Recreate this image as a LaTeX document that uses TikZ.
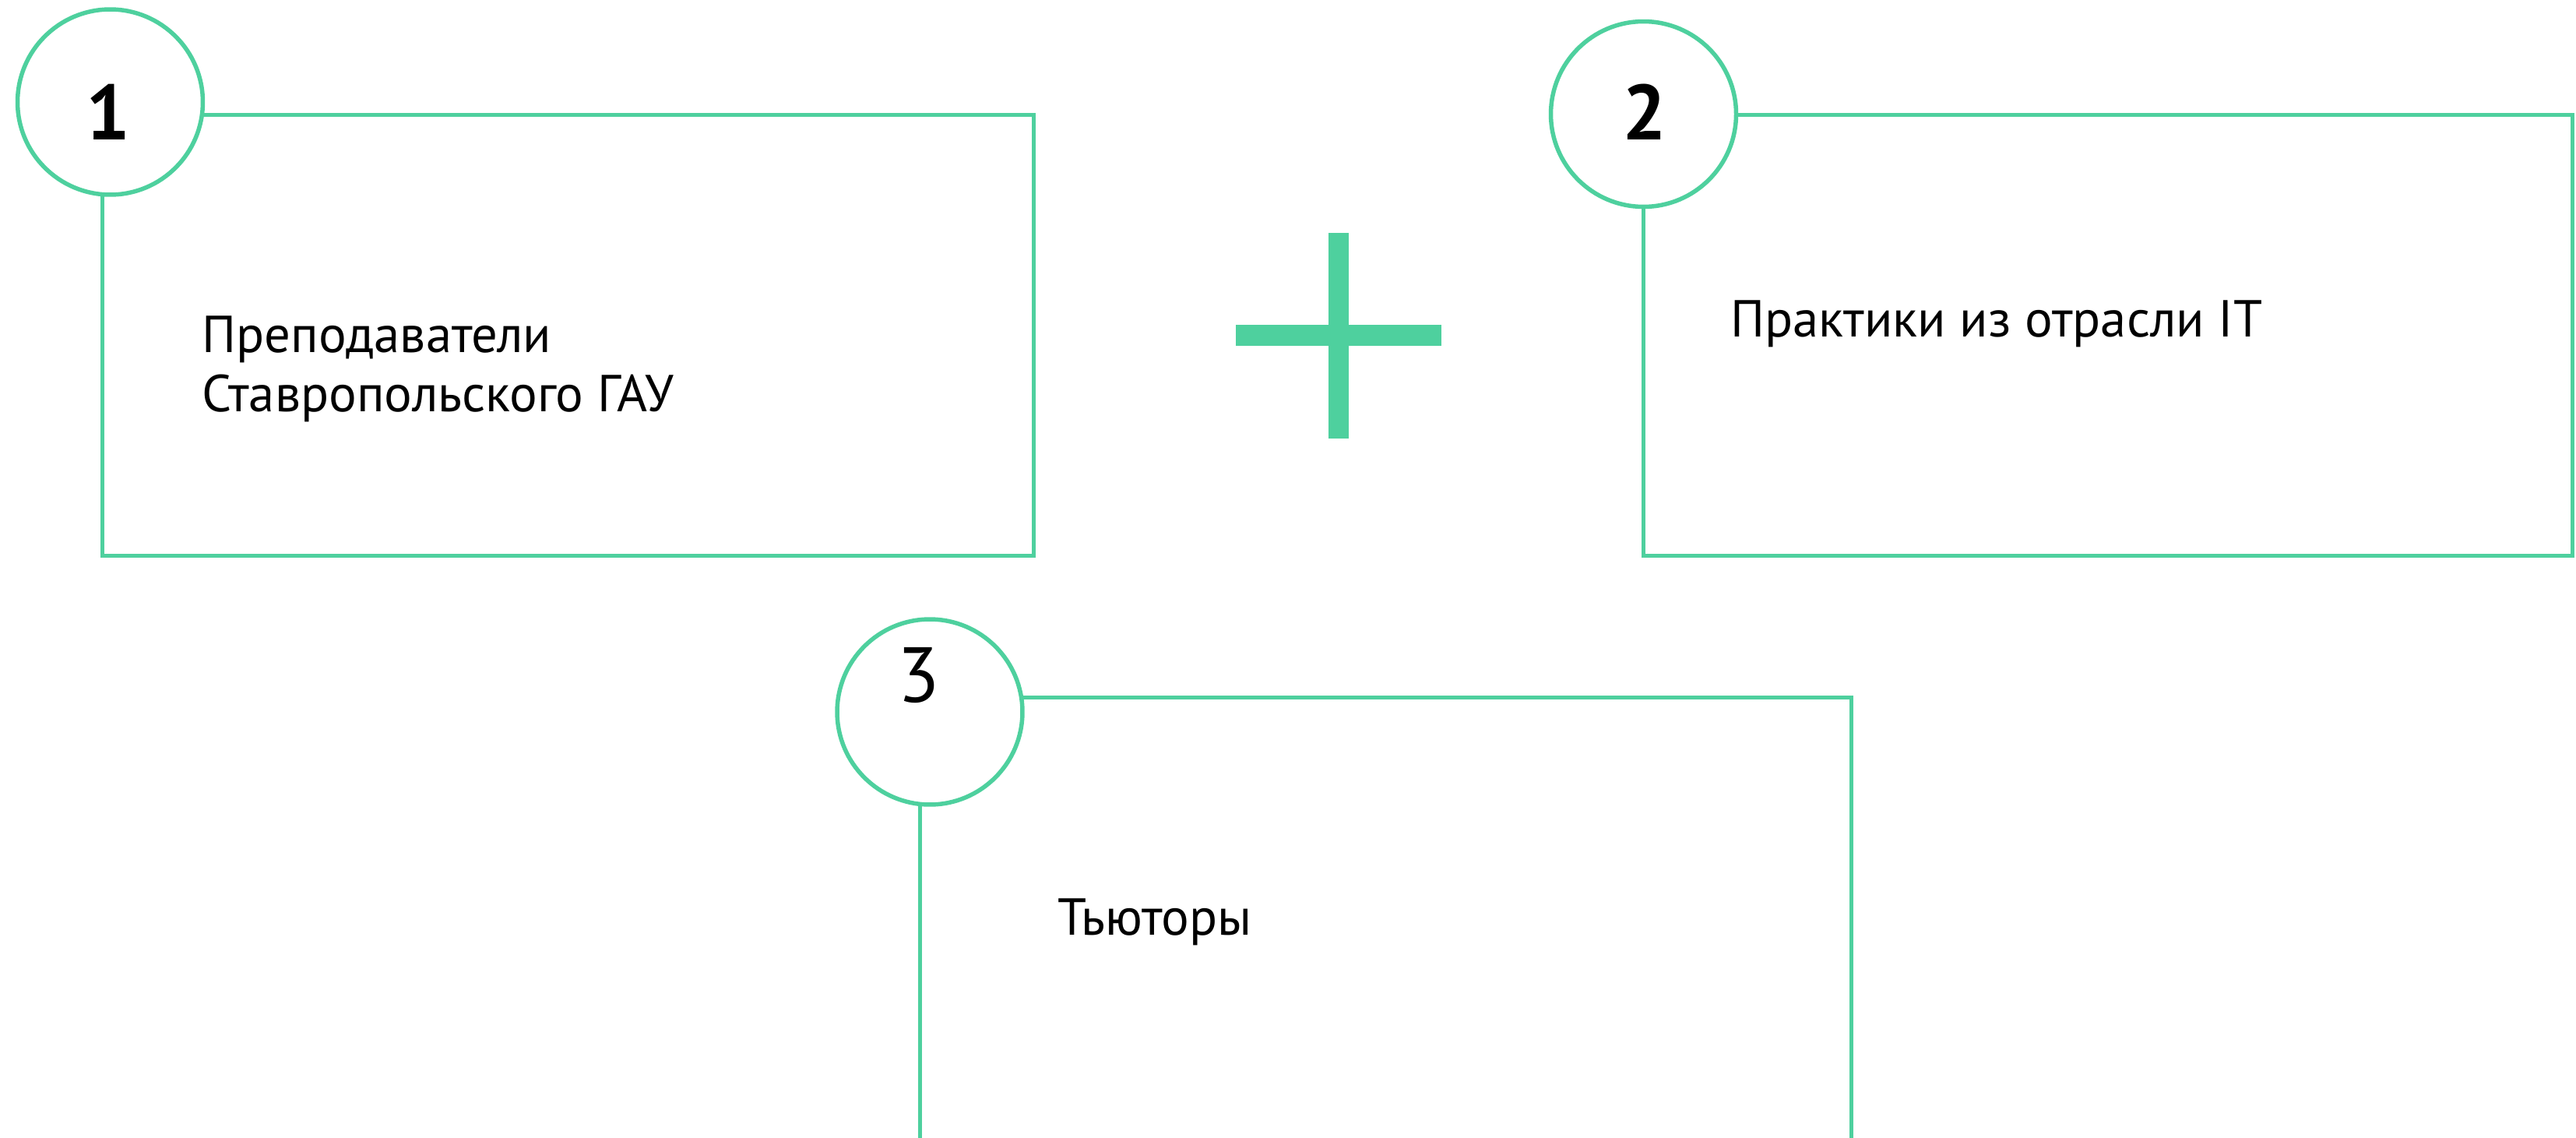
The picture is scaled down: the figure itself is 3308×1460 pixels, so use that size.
\documentclass[tikz,border=0pt]{standalone}
\usepackage{fontspec}
\setmainfont{PT Sans}
\definecolor{mint}{HTML}{4ED09E}
\begin{document}
\begin{tikzpicture}[x=0.02cm,y=-0.02cm,
  frame/.style={draw=mint,line width=0.1cm},
  badge/.style={circle,draw=mint,fill=white,line width=0.11cm,minimum size=4.76cm,inner sep=0pt},
  num/.style={font=\fontsize{57}{60}\selectfont\bfseries,inner sep=0pt},
  num3/.style={font=\fontsize{57}{60}\selectfont,inner sep=0pt},
  label/.style={font=\fontsize{38}{43.2}\selectfont,align=left,inner sep=0pt,anchor=base west},
  bar/.style={fill=mint}]
\useasboundingbox[fill=white] (0,0) rectangle (3308,1460);
% boxes
\draw[frame] (131,147) rectangle (1327,713);
\draw[frame] (2110,147) rectangle (3303,713);
\draw[frame] (1181,1480) -- (1181,895) -- (2377,895) -- (2377,1480);
% circles
\node[badge] (c1) at (141.5,131) {};
\node[badge] (c2) at (2110.5,146.5) {};
\node[badge] (c3) at (1194,914) {};
\node[num] (n1) at (139,144) {1};
\node[num] (n2) at (2112,144) {2};
\node[num3] (n3) at (1180,867) {3};
% plus
\fill[bar] (1706,299) rectangle (1732,563);
\fill[bar] (1587,417) rectangle (1851,444);
% texts
\node[label] (t1) at (259,528) {Преподаватели\\Ставропольского ГАУ};
\node[label] (t2) at (2222,432) {Практики из отрасли IT};
\node[label] (t3) at (1358,1200) {Тьюторы};
\end{tikzpicture}
\end{document}
